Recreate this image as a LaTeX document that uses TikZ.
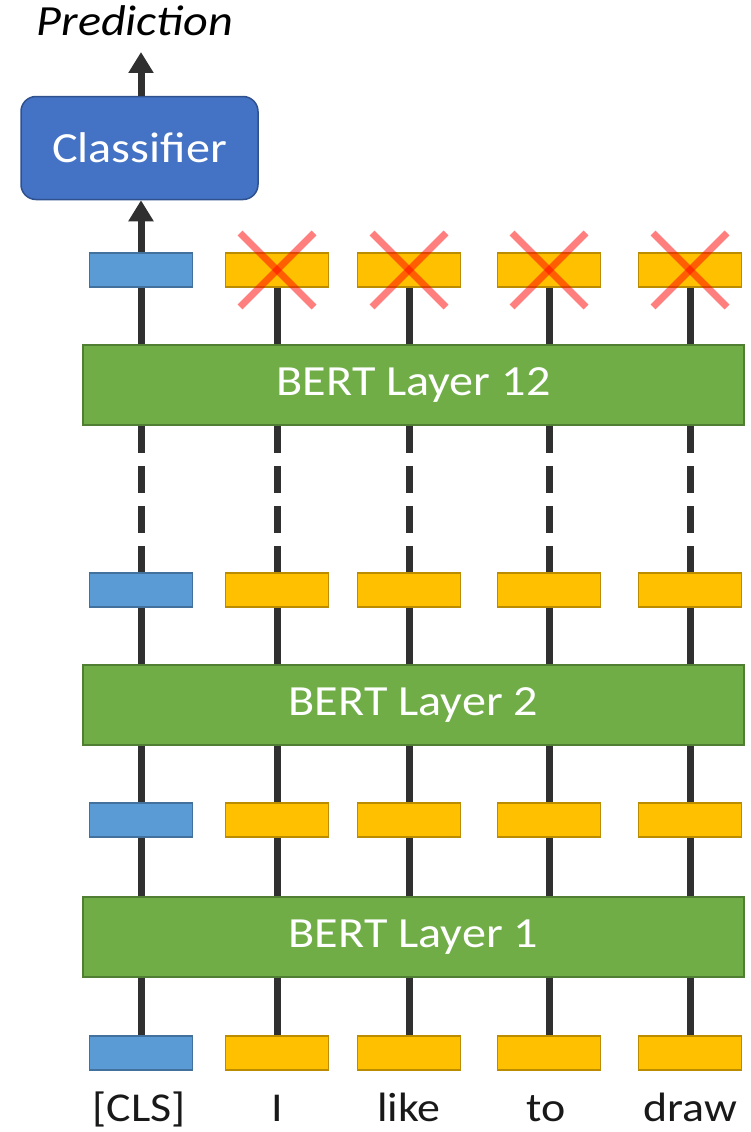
\documentclass[tikz,border=0pt]{standalone}
\usepackage{fontspec}
\setmainfont{Carlito}
\newfontfamily\wideA[FakeStretch=1.12]{Carlito}
\usetikzlibrary{arrows.meta}
\definecolor{clsblue}{HTML}{5B9BD5}
\definecolor{clsborder}{HTML}{41719C}
\definecolor{tokyellow}{HTML}{FFC000}
\definecolor{tokborder}{HTML}{BC8C00}
\definecolor{layergreen}{HTML}{70AD47}
\definecolor{layerborder}{HTML}{507E32}
\definecolor{classblue}{HTML}{4472C4}
\definecolor{classborder}{HTML}{2F528F}
\definecolor{connc}{HTML}{303030}
\begin{document}
\begin{tikzpicture}[x=1pt,y=-1pt,
  tok/.style={draw=tokborder, fill=tokyellow, line width=1.5pt, minimum width=103pt, minimum height=34pt, inner sep=0pt},
  clsbox/.style={tok, draw=clsborder, fill=clsblue},
  layer/.style={draw=layerborder, fill=layergreen, line width=1.5pt, minimum width=661pt, minimum height=80pt, inner sep=0pt, text=white, font=\wideA\fontsize{43}{48}\selectfont},
  classbox/.style={draw=classborder, fill=classblue, line width=1.5pt, rounded corners=15pt, minimum width=237pt, minimum height=103pt, inner sep=0pt, text=white, font=\wideA\fontsize{43}{48}\selectfont},
  conn/.style={draw=connc, line width=7pt},
  dconn/.style={conn, dash pattern=on 27pt off 13pt},
  aconn/.style={conn, -{Triangle[width=24pt,length=21pt]}, fill=connc},
  cross/.style={draw=red, draw opacity=0.5, line width=7pt},
  word/.style={anchor=base, font=\wideA\fontsize{41}{46}\selectfont, text=black!90, inner sep=0pt}
]
\useasboundingbox (0,0) rectangle (751,1132);

% layers
\node[layer] (L12) at (413.5,385) {BERT Layer 12};
\node[layer] (L2) at (413.5,705) {BERT Layer 2};
\node[layer] (L1) at (413.5,937) {BERT Layer 1};

% classifier and prediction
\node[classbox] (clf) at (139.5,148) {Classifier};
\node[anchor=base, inner sep=0pt, font=\fontsize{43}{48}\selectfont\wideA\itshape] (pred) at (135,36) {Prediction};
\coordinate (predtip) at (141,52);

% connectors (behind boxes)
\foreach \x/\c in {141/1,277/2,409/3,549/4,690/5}{
  \coordinate (r1c\c) at (\x,270);
  \coordinate (r2c\c) at (\x,590);
  \coordinate (r3c\c) at (\x,820);
  \coordinate (r4c\c) at (\x,1053);
  \draw[conn] (r4c\c) -- (r4c\c |- L1.south);
  \draw[conn] (r3c\c |- L1.north) -- (r3c\c);
  \draw[conn] (r3c\c) -- (r3c\c |- L2.south);
  \draw[conn] (r2c\c |- L2.north) -- (r2c\c);
  \draw[dconn] (r2c\c |- L12.south) -- ([yshift=-17pt]r2c\c);
  \draw[aconn] (r1c\c |- L12.north) -- ([yshift=17pt]r1c\c);
}

% token boxes
\foreach \r in {1,2,3,4}{
  \node[clsbox] (b\r c1) at (r\r c1) {};
  \foreach \c in {2,3,4,5}{
    \node[tok] (b\r c\c) at (r\r c\c) {};
  }
}

% arrows to classifier and prediction
\draw[aconn] (b1c1.north) -- (clf.south -| b1c1.north);
\draw[aconn] (clf.north -| predtip) -- (predtip);

% crosses
\foreach \c in {2,3,4,5}{
  \draw[cross] (b1c\c.center) +(-37,-37) -- +(37,37);
  \draw[cross] (b1c\c.center) +(-37,37) -- +(37,-37);
}

% words
\node[word] (w1) at (139,1121) {[CLS]};
\node[word] (w2) at (277,1121) {I};
\node[word] (w3) at (409,1121) {like};
\node[word] (w4) at (546,1121) {to};
\node[word] (w5) at (690,1121) {draw};
\end{tikzpicture}
\end{document}
